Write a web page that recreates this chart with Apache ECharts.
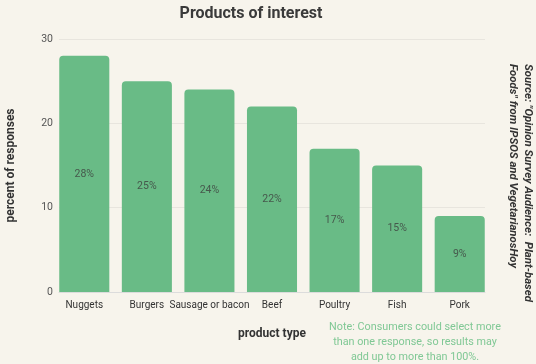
<!DOCTYPE html>
<html><head><meta charset="utf-8">
<script src="https://cdn.jsdelivr.net/npm/echarts@6/dist/echarts.min.js"></script>
<style>html,body{margin:0;padding:0;background:#f7f4ec;}#c{width:536px;height:364px;}</style>
</head><body><div id="c"></div>
<script>
const categories = ["Nuggets","Burgers","Sausage or bacon","Beef","Poultry","Fish","Pork"];
const values = [28,25,24,22,17,15,9];
const yTicks = {min:0,max:30,interval:10};
const chart = echarts.init(document.getElementById('c'));
chart.setOption({
  backgroundColor:'#f7f4ec',
  textStyle:{fontFamily:'Roboto'},
  graphic:[
    {type:'text',x:251,y:14,
      style:{text:'Products of interest',font:'bold 16px Roboto',fill:'#3a3a3a',align:'center',verticalAlign:'middle'}},
    {type:'text',x:520,y:64,rotation:-Math.PI/2,
      style:{text:'Source: "Opinion Survey Audience:  Plant-based\nFoods" from IPSOS and VegetarianosHoy',
        font:'italic bold 11.4px Roboto',fill:'#333',align:'left',verticalAlign:'middle',lineHeight:15}},
    {type:'text',x:415,y:320,
      style:{text:'Note: Consumers could select more\nthan one response, so results may\nadd up to more than 100%.',
        font:'10.8px Roboto',fill:'#80c895',align:'center',verticalAlign:'top',lineHeight:15}}
  ],
  grid:[
    {left:53,right:45,top:39,bottom:72,containLabel:false,outerBoundsMode:'none'},
    {left:59,right:51,top:39,bottom:72,containLabel:false,outerBoundsMode:'none'}
  ],
  xAxis:[
    {type:'category',data:categories,gridIndex:0,
      axisLine:{show:false},axisTick:{show:false},
      axisLabel:{color:'#333',fontSize:10,margin:8,interval:0}},
    {type:'value',gridIndex:1,min:0,max:1,
      axisLine:{show:true,onZero:false,lineStyle:{color:'#dcdcdc'}},axisTick:{show:false},
      axisLabel:{show:false},splitLine:{show:false},
      name:'product type',nameLocation:'middle',nameGap:36,
      nameTextStyle:{fontSize:12,fontWeight:'bold',color:'#333'}}
  ],
  yAxis:[
    {type:'value',gridIndex:0,min:yTicks.min,max:yTicks.max,interval:yTicks.interval,show:false,splitLine:{show:false}},
    {type:'value',gridIndex:1,min:yTicks.min,max:yTicks.max,interval:yTicks.interval,
      axisLine:{show:false},axisTick:{show:false},
      axisLabel:{color:'#555',fontSize:10.5,margin:6},
      splitLine:{lineStyle:{color:'#e8e5de'}},
      name:'percent of responses',nameLocation:'middle',nameGap:42,
      nameTextStyle:{fontSize:12,fontWeight:'bold',color:'#333'}}
  ],
  series:[{type:'bar',data:values,xAxisIndex:0,yAxisIndex:0,barCategoryGap:'20%',
    itemStyle:{color:'#69bb86',borderRadius:[4,4,0,0]},
    label:{show:true,position:'inside',formatter:'{c}%',color:'#46584c',fontSize:10.5}}]
});
</script></body></html>
